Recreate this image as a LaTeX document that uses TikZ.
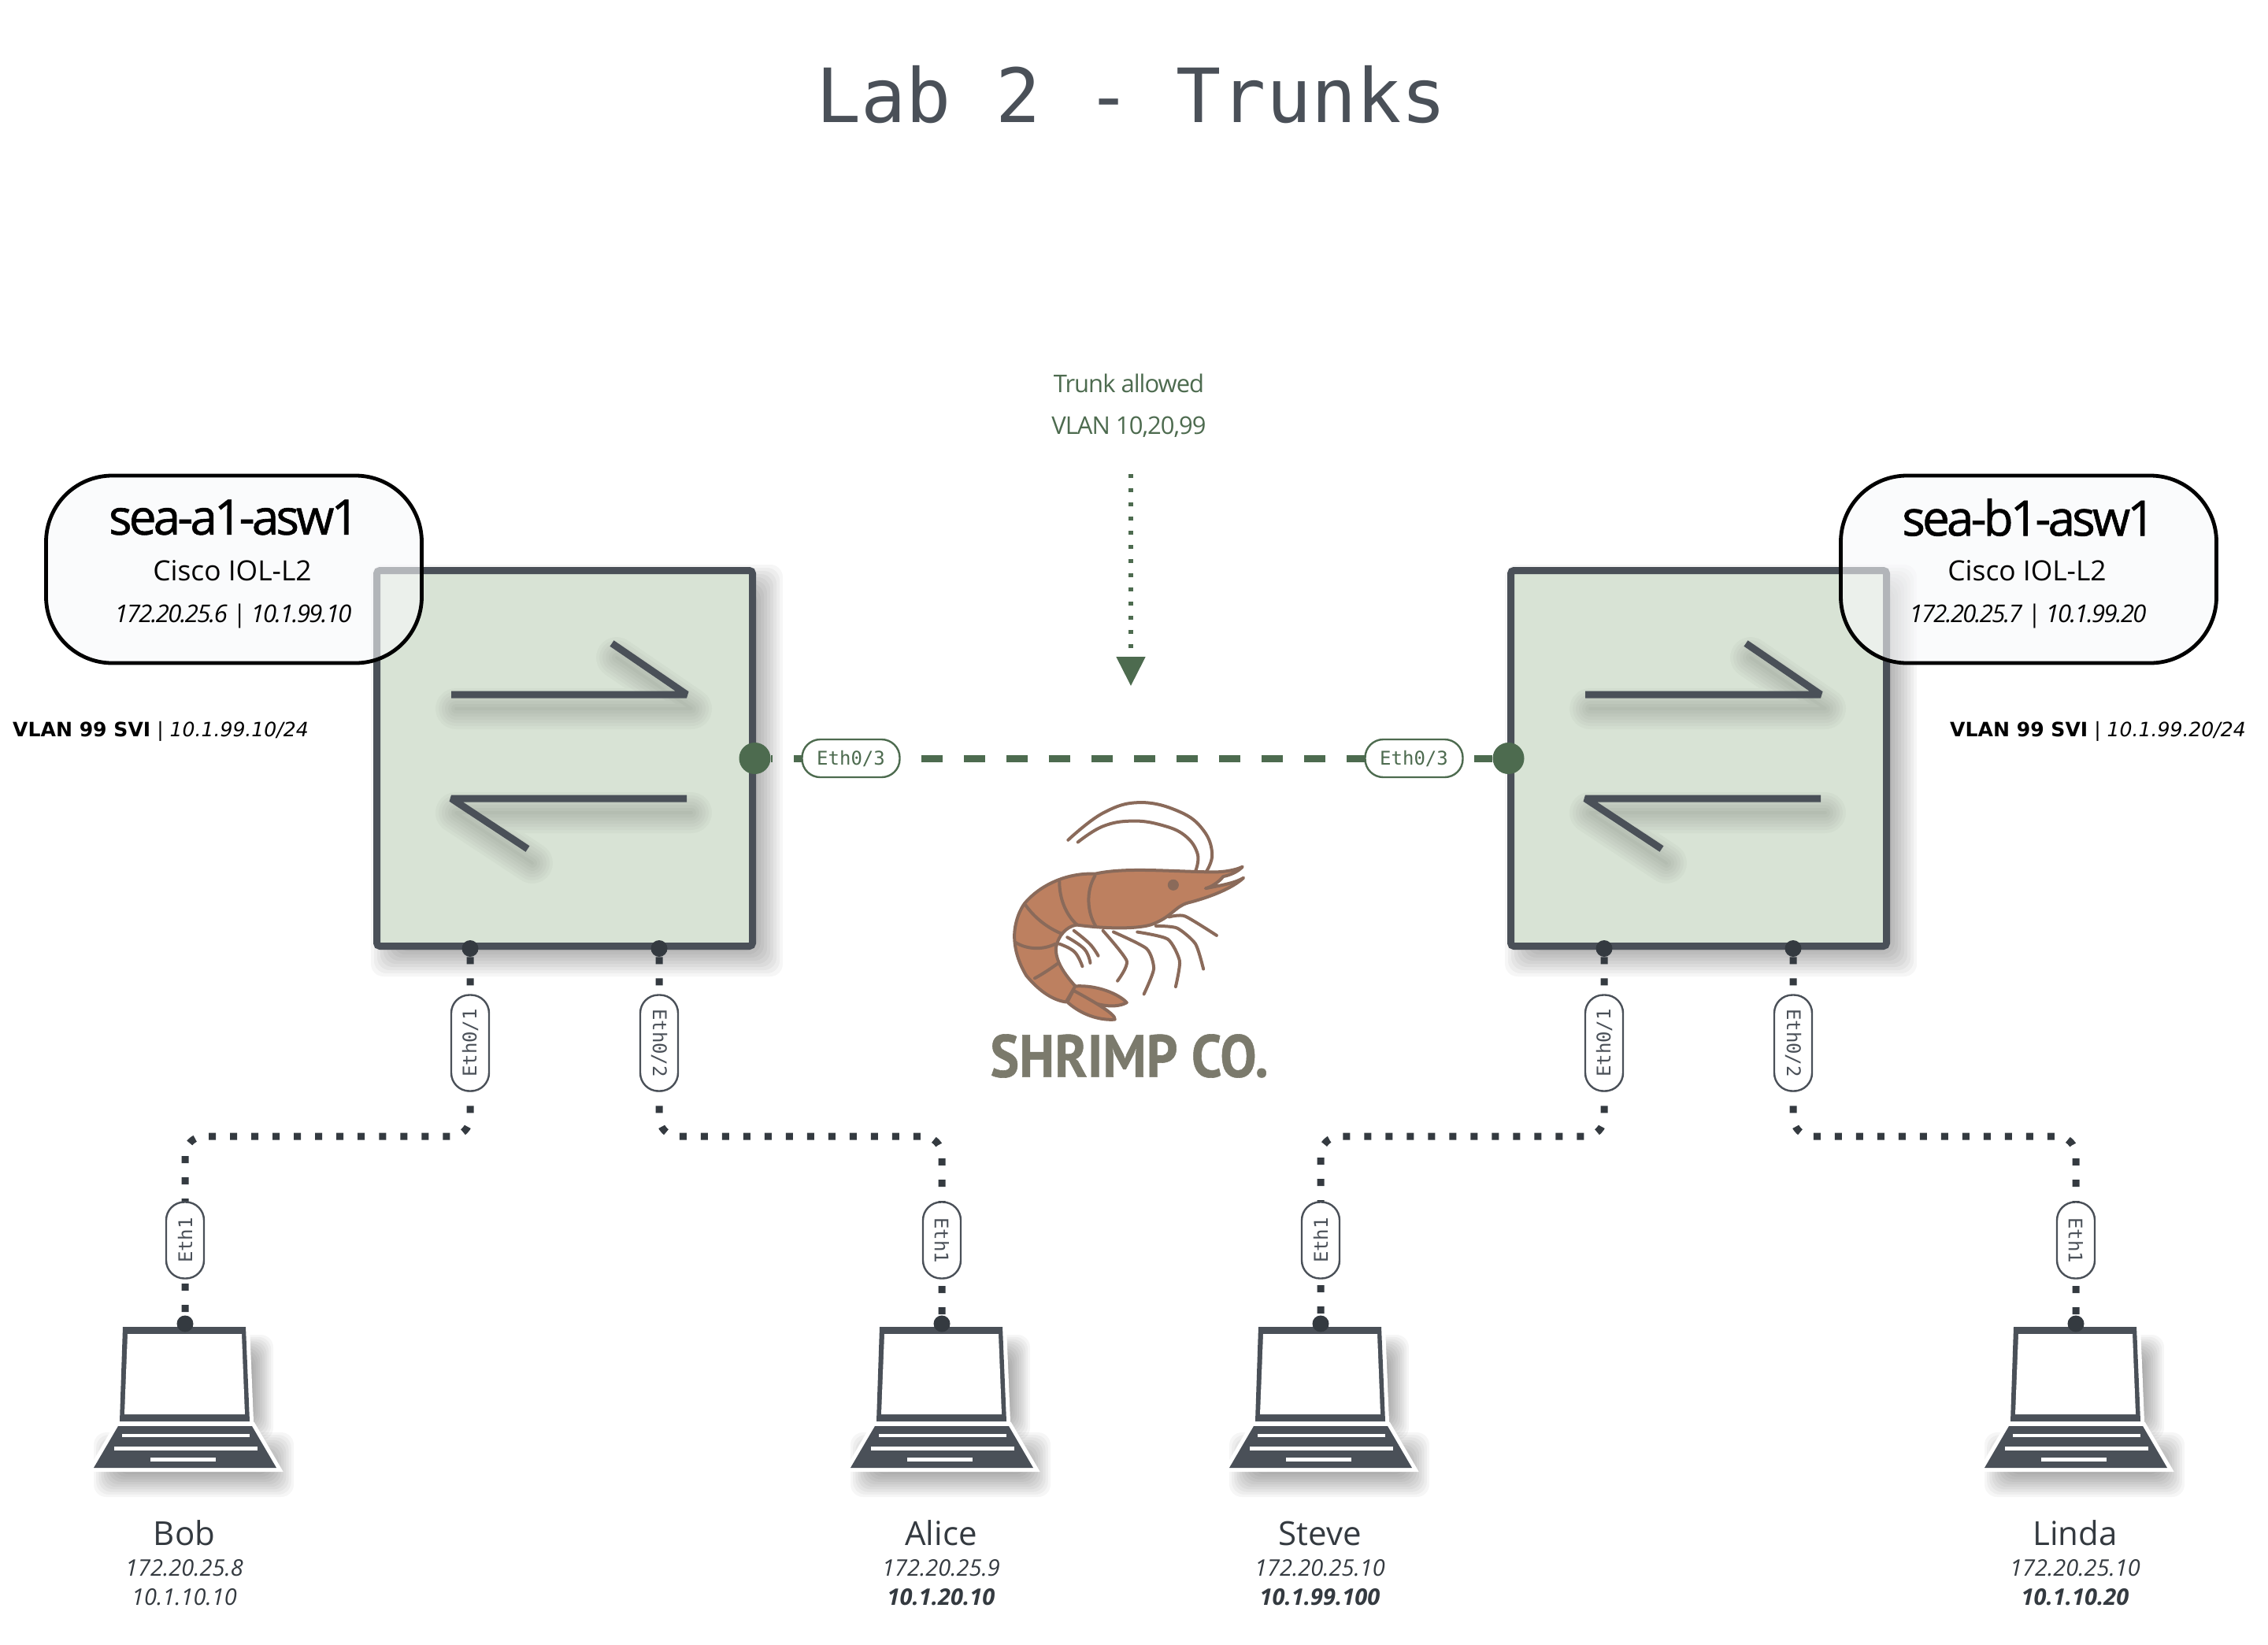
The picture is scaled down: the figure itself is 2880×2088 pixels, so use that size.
\documentclass[tikz,border=0pt]{standalone}
\usepackage{fontspec}
\usepackage{xcolor}
\setmainfont{Open Sans}
\setmonofont{DejaVu Sans Mono}
\newfontfamily\vlanfont{DejaVu Sans}
\newfontfamily\logofont[FakeBold=0.8]{PT Sans}
\newfontfamily\hostfont[FakeBold=1,LetterSpace=-6.2]{Open Sans}
\newfontfamily\ipfont[LetterSpace=-5.4]{Open Sans}
\newfontfamily\notefont[LetterSpace=-3.2]{Open Sans}
\usetikzlibrary{arrows.meta}
\definecolor{slate}{HTML}{4A5058}
\definecolor{ink}{HTML}{343A40}
\definecolor{moss}{HTML}{4D6B4F}
\definecolor{sage}{HTML}{D8E3D5}
\definecolor{mist}{HTML}{F8F9FB}
\definecolor{shell}{HTML}{BD8060}
\definecolor{shelledge}{HTML}{8A6A5A}
\definecolor{logotext}{HTML}{7B7A6C}
\tikzstyle{switchbox} = [rectangle,
                         rounded corners=2pt,
                         minimum size=238.5pt,
                         inner sep=0pt,
                         outer sep=1.5pt,
                         line width=4.5pt,
                         draw=slate,
                         fill=sage]
\tikzstyle{switchline} = [line width=4.5pt,
                          line join=bevel,
                          draw=slate]
\tikzstyle{callout} = [rectangle,
                       rounded corners=42pt,
                       minimum width=238.5pt,
                       minimum height=119pt,
                       line width=2.4pt,
                       draw=black,
                       fill=mist,
                       fill opacity=0.6,
                       text opacity=1]
\tikzstyle{hostname} = [text=black,
                        font=\hostfont\fontsize{31}{31}\selectfont]
\tikzstyle{model} = [text=black,
                     font=\fontsize{17.7}{17.7}\selectfont]
\tikzstyle{address} = [text=black,
                       font=\ipfont\itshape\fontsize{15.5}{15.5}\selectfont]
\tikzstyle{svi} = [text=black,
                   font=\vlanfont\fontsize{12.55}{12.55}\selectfont]
\tikzstyle{pill} = [rectangle,
                    rounded corners=11.5pt,
                    minimum width=61pt,
                    minimum height=24pt,
                    inner sep=0pt,
                    line width=1.2pt,
                    draw=slate,
                    fill=white,
                    text=slate,
                    font=\ttfamily\fontsize{12}{12}\selectfont]
\tikzstyle{trunkpill} = [pill,
                         draw=moss,
                         text=moss,
                         minimum width=62pt]
\tikzstyle{trunkdot} = [circle,
                        minimum size=20pt,
                        inner sep=0pt,
                        fill=moss]
\tikzstyle{portdot} = [circle,
                       minimum size=10.5pt,
                       inner sep=0pt,
                       fill=ink]
\tikzstyle{trunk} = [line width=4.5pt,
                     draw=moss,
                     dash pattern=on 13.5pt off 13.5pt,
                     dash phase=12.5pt]
\tikzstyle{access} = [line width=4.5pt,
                      draw=ink,
                      rounded corners=12pt,
                      dash pattern=on 4.5pt off 9pt]
\tikzstyle{hint} = [line width=2.6pt,
                    draw=moss,
                    dash pattern=on 2.6pt off 6.4pt,
                    -{Triangle[length=18.5pt,width=18pt,fill=moss]}]
\tikzstyle{notetext} = [text=moss,
                        font=\notefont\fontsize{15.5}{15.5}\selectfont]
\tikzstyle{pcname} = [text=ink,
                      font=\fontsize{21}{21}\selectfont]
\tikzstyle{pcip} = [text=ink,
                    font=\itshape\fontsize{14.5}{14.5}\selectfont]
\tikzstyle{pcipb} = [text=ink,
                     font=\bfseries\itshape\fontsize{14.5}{14.5}\selectfont]
\tikzstyle{shrimpleg} = [line width=2pt,
                         draw=shelledge,
                         line cap=round,
                         line join=round]
% soft shadow, as a stack of faint boxes: corner, corner, spread
\newcommand{\softbox}[3]{%
  \foreach \f in {-1,-0.8,...,1}
    \fill [black, opacity=0.035, rounded corners=8pt] ([shift={(\f*#3,\f*#3)}]#1) rectangle ([shift={(-\f*#3,-\f*#3)}]#2);
}
\newcommand{\softline}[1]{%
  \foreach \w in {2,6,10,14,18,22,26}
    \draw [black, opacity=0.022, line width=\w pt, line join=round, line cap=round, shift={(6,18)}] #1;
}
\tikzset{
  laptop/.pic={
    \softbox{-66,24}{98,130}{14}
    \softbox{-100,150}{122,200}{16}
    \fill [slate, preaction={draw=white, line width=5pt}] (-79,0) -- (77,0) -- (82,120) -- (-83,120) -- cycle;
    \fill [white] (-73,9) -- (72,9) -- (76,111) -- (-77,111) -- cycle;
    \fill [slate, preaction={draw=white, line width=5pt}] (-85,126) -- (85,126) -- (116,179) -- (-116,179) -- cycle;
    \fill [white] (-80,136) rectangle (82,140);
    \fill [white] (-90,152) rectangle (92,157);
    \fill [white] (-44,166) rectangle (39,171);
  }
}
\begin{document}
\begin{tikzpicture}[x=0.5pt,y=-0.5pt]

    \useasboundingbox [fill=white] (0,0) rectangle (2880,2088);

    \node (title) at (1436.5,120) [text=slate, font=\ttfamily\fontsize{47.5}{47.5}\selectfont] {Lab 2 - Trunks};

    % switches
    \softbox{491,737}{974,1220}{20}
    \softbox{1931,737}{2414,1220}{20}
    \node (swa) [switchbox] at (717,963) {};
    \node (swb) [switchbox, right of=swa, node distance=720pt] {};

    \softline{(573,882) -- (872,882) -- (777,817)}
    \softline{(872,1014) -- (573,1014) -- (670,1078)}
    \softline{(2013,882) -- (2312,882) -- (2217,817)}
    \softline{(2312,1014) -- (2013,1014) -- (2110,1078)}
    \draw [switchline] (573,882) -- (872,882) -- (777,817);
    \draw [switchline] (872,1014) -- (573,1014) -- (670,1078);
    \draw [switchline] (2013,882) -- (2312,882) -- (2217,817);
    \draw [switchline] (2312,1014) -- (2013,1014) -- (2110,1078);

    % ports
    \node (trunka) [trunkdot] at (swa.east) {};
    \node (trunkb) [trunkdot] at (swb.west) {};
    \node (pa1) [portdot] at ([xshift=-60pt]swa.south) {};
    \node (pa2) [portdot] at ([xshift=60pt]swa.south) {};
    \node (pb1) [portdot] at ([xshift=-60pt]swb.south) {};
    \node (pb2) [portdot] at ([xshift=60pt]swb.south) {};
    \coordinate (bobtop)   at (235,1681);
    \coordinate (alicetop) at (1196,1681);
    \coordinate (stevetop) at (1677,1681);
    \coordinate (lindatop) at (2636,1681);

    \pic at ([yshift=-2pt]bobtop) {laptop};
    \pic at ([yshift=-2pt]alicetop) {laptop};
    \pic at ([yshift=-2pt]stevetop) {laptop};
    \pic at ([yshift=-2pt]lindatop) {laptop};
    \node (bobport)   [portdot] at (bobtop) {};
    \node (aliceport) [portdot] at (alicetop) {};
    \node (steveport) [portdot] at (stevetop) {};
    \node (lindaport) [portdot] at (lindatop) {};

    % links
    \draw [trunk] (trunka) -- (trunkb);
    \draw [access] (pa1) -- ++(0,238.5) -| (bobport);
    \draw [access] (pa2) -- ++(0,238.5) -| (aliceport);
    \draw [access] (pb1) -- ++(0,238.5) -| (steveport);
    \draw [access] (pb2) -- ++(0,238.5) -| (lindaport);

    % link labels
    \node (lta) [trunkpill, right of=trunka, node distance=61pt] {Eth0/3};
    \node (ltb) [trunkpill, left of=trunkb, node distance=60pt] {Eth0/3};
    \node (la1) [pill, rotate=90] at ([yshift=-60pt]pa1) {Eth0/1};
    \node (la2) [pill, rotate=-90] at ([yshift=-60pt]pa2) {Eth0/2};
    \node (lb1) [pill, rotate=90] at ([yshift=-60pt]pb1) {Eth0/1};
    \node (lb2) [pill, rotate=-90] at ([yshift=-60pt]pb2) {Eth0/2};
    \node (lbob)   [pill, rotate=90, minimum width=48.5pt] at ([yshift=53pt]bobport) {Eth1};
    \node (lalice) [pill, rotate=-90, minimum width=48.5pt] at ([yshift=53pt]aliceport) {Eth1};
    \node (lsteve) [pill, rotate=90, minimum width=48.5pt] at ([yshift=53pt]steveport) {Eth1};
    \node (llinda) [pill, rotate=-90, minimum width=48.5pt] at ([yshift=53pt]lindaport) {Eth1};

    % callouts
    \node (calla) [callout, left of=swa, node distance=210pt, yshift=120pt] {};
    \node (callb) [callout, right of=swb, node distance=209.5pt, yshift=120pt] {};
    \node (namea)  [hostname, above of=calla, node distance=33pt] {sea-a1-asw1};
    \node (modela) [model, below of=namea, node distance=34pt, xshift=-1pt] {Cisco IOL-L2};
    \node (ipa)    [address, below of=modela, node distance=28.5pt, xshift=0.5pt] {172.20.25.6 | 10.1.99.10};
    \node (nameb)  [hostname, above of=callb, node distance=33pt] {sea-b1-asw1};
    \node (modelb) [model, below of=nameb, node distance=34pt, xshift=-1pt] {Cisco IOL-L2};
    \node (ipb)    [address, below of=modelb, node distance=28.5pt, xshift=0.5pt] {172.20.25.7 | 10.1.99.20};

    \node (svia) [svi, left of=swa, node distance=256.5pt, yshift=17pt] {\textbf{VLAN 99 SVI} | \textit{10.1.99.10/24}};
    \node (svib) [svi, right of=swb, node distance=253.5pt, yshift=17pt] {\textbf{VLAN 99 SVI} | \textit{10.1.99.20/24}};

    % trunk note
    \node (note1) at (1433.5,487) [notetext] {Trunk allowed};
    \node (note2) [notetext, below of=note1, node distance=27.5pt] {VLAN 10,20,99};
    \coordinate (hinta) at (1436,602);
    \coordinate (hintb) at (1436,871);
    \draw [hint] (hinta) -- (hintb);

    % hosts
    \node (bobname)   [pcname, below of=bobport, node distance=133pt, xshift=-0.5pt] {Bob};
    \node (bobip)     [pcip, below of=bobname, node distance=22pt] {172.20.25.8};
    \node (bobvlan)   [pcip, below of=bobip, node distance=18.5pt] {10.1.10.10};
    \node (alicename) [pcname, below of=aliceport, node distance=133pt, xshift=-0.5pt] {Alice};
    \node (aliceip)   [pcip, below of=alicename, node distance=22pt] {172.20.25.9};
    \node (alicevlan) [pcipb, below of=aliceip, node distance=18.5pt] {10.1.20.10};
    \node (stevename) [pcname, below of=steveport, node distance=133pt, xshift=-0.5pt] {Steve};
    \node (steveip)   [pcip, below of=stevename, node distance=22pt] {172.20.25.10};
    \node (stevevlan) [pcipb, below of=steveip, node distance=18.5pt] {10.1.99.100};
    \node (lindaname) [pcname, below of=lindaport, node distance=133pt, xshift=-0.5pt] {Linda};
    \node (lindaip)   [pcip, below of=lindaname, node distance=22pt] {172.20.25.10};
    \node (lindavlan) [pcipb, below of=lindaip, node distance=18.5pt] {10.1.10.20};

    % logo
    \begin{scope}[shift={(1239.5,980.5)},x=0.1678pt,y=-0.1678pt]
      \draw [shrimpleg] plot [smooth, tension=0.7] coordinates {(830,375) (838,310) (790,240) (700,200) (590,185) (480,205) (385,265)};
      \draw [shrimpleg] plot [smooth, tension=0.7] coordinates {(870,378) (893,310) (860,220) (770,150) (620,115) (480,155) (348,257)};
      \draw [shrimpleg] plot [smooth, tension=0.7] coordinates {(370,600) (430,650) (462,695)};
      \draw [shrimpleg] plot [smooth, tension=0.7] coordinates {(345,625) (410,670) (432,722)};
      \draw [shrimpleg] plot [smooth, tension=0.7] coordinates {(315,650) (372,680) (402,735)};
      \draw [shrimpleg] plot [smooth, tension=0.4] coordinates {(480,600) (570,715) (535,790)};
      \draw [shrimpleg] plot [smooth, tension=0.4] coordinates {(520,605) (645,668) (672,745) (635,840)};
      \draw [shrimpleg] plot [smooth, tension=0.4] coordinates {(610,605) (725,632) (770,715) (755,812)};
      \draw [shrimpleg] plot [smooth, tension=0.4] coordinates {(680,582) (760,590) (830,650) (860,745)};
      \draw [shrimpleg] plot [smooth, tension=0.4] coordinates {(730,548) (790,545) (910,618)};
      \fill [shell, shrimpleg] (375,810) .. controls (460,805) and (540,840) .. (570,872) .. controls (520,900) and (430,880) .. (350,830) -- cycle;
      \fill [shell, shrimpleg] (345,870) .. controls (400,920) and (470,940) .. (525,936) .. controls (530,915) and (430,860) .. (368,826) -- cycle;
      \fill [shell, shrimpleg] (450,385) .. controls (560,360) and (720,375) .. (880,378)
            .. controls (930,380) and (980,372) .. (1008,358) .. controls (990,378) and (960,390) .. (935,395)
            .. controls (920,415) and (890,435) .. (868,440) .. controls (920,430) and (980,420) .. (1012,400)
            .. controls (970,440) and (880,475) .. (800,495) .. controls (750,510) and (740,550) .. (660,578)
            .. controls (600,595) and (480,592) .. (380,578) .. controls (340,585) and (310,620) .. (302,665)
            .. controls (300,720) and (340,770) .. (375,810) -- (340,870)
            .. controls (270,860) and (215,800) .. (190,770) .. controls (160,720) and (145,670) .. (145,620)
            .. controls (145,570) and (165,520) .. (185,495) .. controls (240,430) and (340,380) .. (450,385) -- cycle;
      \draw [shrimpleg] (450,392) .. controls (415,450) and (420,530) .. (452,582);
      \draw [shrimpleg] (315,412) .. controls (315,480) and (340,540) .. (382,578);
      \draw [shrimpleg] (187,503) .. controls (220,550) and (270,590) .. (325,612);
      \draw [shrimpleg] (150,645) .. controls (190,670) and (250,675) .. (300,650);
      \draw [shrimpleg] (222,780) .. controls (250,765) and (280,745) .. (308,725);
      \fill [shelledge] (746,427) circle (21);
    \end{scope}
    \node (logotext) at (1434,1341) [text=logotext, font=\logofont\bfseries\fontsize{38}{38}\selectfont, xscale=0.91] {SHRIMP CO.};

  \end{tikzpicture}
\end{document}
